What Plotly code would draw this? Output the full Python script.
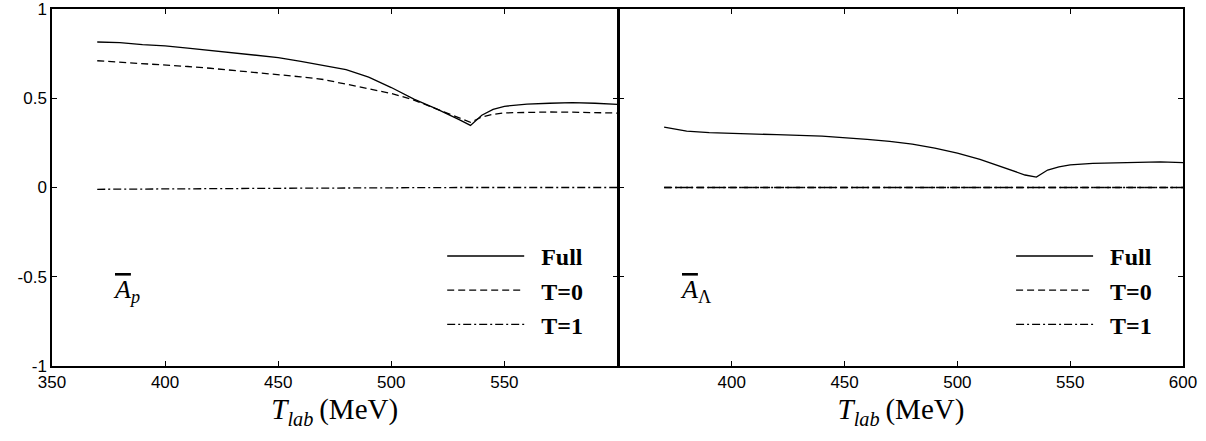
import plotly.graph_objects as go

# ---------------- data ----------------
x_left = [370, 380, 390, 400, 410, 420, 430, 440, 450, 460, 470, 480, 490, 500,
          510, 520, 530, 535, 540, 545, 550, 560, 570, 580, 590, 600]
left_full = [0.815, 0.812, 0.800, 0.793, 0.781, 0.768, 0.755, 0.742, 0.728, 0.707,
             0.685, 0.660, 0.618, 0.560, 0.495, 0.440, 0.380, 0.348, 0.405, 0.438,
             0.455, 0.467, 0.472, 0.475, 0.472, 0.466]
left_t0 = [0.710, 0.703, 0.695, 0.687, 0.678, 0.668, 0.657, 0.645, 0.633, 0.620,
           0.605, 0.578, 0.552, 0.527, 0.490, 0.440, 0.390, 0.365, 0.395, 0.410,
           0.418, 0.422, 0.423, 0.422, 0.420, 0.417]
left_t1 = [-0.010, -0.010, -0.010, -0.008, -0.007, -0.006, -0.006, -0.005, -0.004, -0.003,
           -0.002, -0.001, 0.000, 0.000, 0.000, 0.000, 0.000, 0.000, 0.000, 0.000,
           0.000, 0.000, 0.000, 0.000, 0.000, 0.000]

x_right = [370, 375, 380, 390, 400, 420, 440, 450, 460, 470, 480, 490, 500, 510,
           520, 530, 535, 540, 545, 550, 560, 570, 580, 590, 600]
right_full = [0.338, 0.325, 0.316, 0.307, 0.302, 0.296, 0.288, 0.280, 0.270, 0.258,
              0.243, 0.221, 0.193, 0.158, 0.115, 0.070, 0.058, 0.098, 0.115, 0.127,
              0.135, 0.140, 0.141, 0.143, 0.139]
right_t0 = [0.0] * len(x_right)
right_t1 = [0.0] * len(x_right)

series_names = ["Full", "T=0", "T=1"]
x_ticks = [350, 400, 450, 500, 550, 600]
x_text_left = ["350", "400", "450", "500", "550", ""]
x_text_right = ["", "400", "450", "500", "550", "600"]
y_ticks = [-1, -0.5, 0, 0.5, 1]
y_text = ["-1", "-0.5", "0", "0.5", "1"]

# ---------------- styles ----------------
dashes = ["solid", "7px,4px", "8px,3px,2px,3px"]
LW = 1.3
AX_LW = 1.5
PLOT_W = 1206 - 52 - 23
split = 0.5 + AX_LW / PLOT_W

fig = go.Figure()
for i, (vals, name, dash) in enumerate(zip([left_full, left_t0, left_t1], series_names, dashes)):
    fig.add_trace(go.Scatter(x=x_left, y=vals, mode="lines", name="\u00a0\u00a0" + name,
                             line=dict(color="black", width=LW, dash=dash),
                             legendgroup="L%d" % i,
                             xaxis="x", yaxis="y", legend="legend"))
for i, (vals, name, dash) in enumerate(zip([right_full, right_t0, right_t1], series_names, dashes)):
    fig.add_trace(go.Scatter(x=x_right, y=vals, mode="lines", name="\u00a0\u00a0" + name,
                             line=dict(color="black", width=LW, dash=dash),
                             legendgroup="R%d" % i,
                             xaxis="x2", yaxis="y2", legend="legend2"))

axis_common = dict(showgrid=False, zeroline=False, showline=True, linecolor="black",
                   linewidth=AX_LW, mirror="ticks", ticks="inside", ticklen=5,
                   tickcolor="black", tickwidth=1.2, automargin=False,
                   ticklabeloverflow="allow",
                   tickfont=dict(family="Liberation Sans, Arial", size=17, color="black"))

title_text = "<i>T</i><sub><i>lab</i></sub>\u2009(MeV)"
title_font = dict(family="Liberation Serif, Times New Roman", size=29, color="black")

legend_common = dict(font=dict(family="Liberation Serif, Times New Roman", size=24,
                               color="black", weight="bold"),
                     bgcolor="rgba(0,0,0,0)", itemwidth=77, tracegroupgap=0,
                     xanchor="left", yanchor="top")

fig.update_layout(
    width=1206, height=441,
    margin=dict(l=52, r=23, t=9, b=75, autoexpand=False),
    paper_bgcolor="white", plot_bgcolor="white",
    xaxis=dict(domain=[0, 0.5], range=[350, 600], tickvals=x_ticks, ticktext=x_text_left,
               title=dict(text=title_text, font=title_font, standoff=8),
               anchor="y", **axis_common),
    yaxis=dict(range=[-1, 1], tickvals=y_ticks, ticktext=y_text, anchor="x",
               **axis_common),
    xaxis2=dict(domain=[split, 1], range=[350, 600], tickvals=x_ticks, ticktext=x_text_right,
                title=dict(text=title_text, font=title_font, standoff=8),
                anchor="y2", **axis_common),
    yaxis2=dict(range=[-1, 1], tickvals=y_ticks, showticklabels=False, anchor="x2",
                **axis_common),
    legend=dict(x=0.345, y=0.37, **legend_common),
    legend2=dict(x=0.848, y=0.37, **legend_common),
    showlegend=True,
)

ann_font = dict(family="Liberation Serif, Times New Roman", size=26, color="black")
fig.add_annotation(x=376, y=-0.58, xref="x", yref="y", xanchor="left", showarrow=False,
                   text="<span style='text-decoration:overline'><i>A</i></span><sub><i>p</i></sub>",
                   font=ann_font)
fig.add_annotation(x=376, y=-0.58, xref="x2", yref="y2", xanchor="left", showarrow=False,
                   text="<span style='text-decoration:overline'><i>A</i></span><sub>Λ</sub>",
                   font=ann_font)

fig.write_html("out.html", config={"displayModeBar": False},
               post_script="document.body.style.margin='0';")
